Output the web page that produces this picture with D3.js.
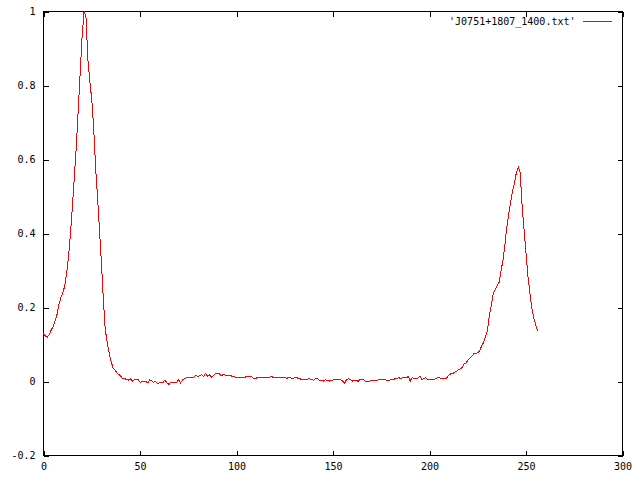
<!DOCTYPE html>
<html>
<head>
<meta charset="utf-8">
<script src="https://cdn.jsdelivr.net/npm/d3@7"></script>
<style>
  body { margin: 0; background: #fff; }
  text { font-family: "DejaVu Sans Mono", monospace; font-size: 10px; fill: #000; }
</style>
</head>
<body>
<svg class="chart" width="640" height="480"></svg>
<script>
// intensity per channel (channel 0..256)
const intensity = [
  0.132, 0.122, 0.120, 0.127, 0.139, 0.149, 0.163, 0.181, 0.208, 0.227,
  0.240, 0.258, 0.294, 0.339, 0.402, 0.474, 0.555, 0.636, 0.735, 0.834,
  0.933, 1.000, 0.985, 0.870, 0.812, 0.762, 0.686, 0.578, 0.497, 0.411,
  0.321, 0.222, 0.141, 0.105, 0.078, 0.055, 0.037, 0.031, 0.024, 0.019,
  0.014, 0.008, 0.008, 0.005, 0.004, 0.007, 0.001, 0.004, 0.007, 0.005,
  -0.002, -0.001, 0.000, 0.001, -0.004, 0.005, 0.002, -0.002, 0.001, -0.005,
  -0.004, -0.004, -0.002, 0.004, -0.004, -0.008, -0.002, -0.002, -0.002, -0.002,
  0.005, -0.004, 0.004, 0.007, 0.010, 0.010, 0.010, 0.010, 0.012, 0.017,
  0.012, 0.016, 0.019, 0.0135, 0.022, 0.0135, 0.018, 0.012, 0.016, 0.021,
  0.021, 0.021, 0.016, 0.018, 0.018, 0.016, 0.016, 0.016, 0.0135, 0.0135,
  0.010, 0.011, 0.012, 0.010, 0.010, 0.013, 0.013, 0.013, 0.012, 0.008,
  0.008, 0.012, 0.012, 0.010, 0.012, 0.011, 0.010, 0.010, 0.015, 0.010,
  0.012, 0.012, 0.012, 0.012, 0.012, 0.012, 0.008, 0.011, 0.010, 0.008,
  0.010, 0.012, 0.008, 0.007, 0.005, 0.005, 0.005, 0.007, 0.007, 0.005,
  0.003, 0.008, 0.007, 0.003, 0.003, 0.001, 0.005, 0.003, 0.001, 0.003,
  0.004, 0.0045, 0.0045, 0.005, 0.005, 0.001, -0.005, 0.005, 0.007, 0.005,
  0.001, 0.004, 0.004, 0.000, 0.005, 0.005, 0.004, -0.001, 0.001, 0.001,
  0.004, 0.004, 0.003, 0.003, 0.005, 0.005, 0.005, 0.005, 0.003, 0.003,
  0.005, 0.005, 0.007, 0.007, 0.011, 0.008, 0.010, 0.010, 0.010, 0.014,
  0.001, 0.011, 0.007, 0.007, 0.009, 0.014, 0.005, 0.008, 0.010, 0.005,
  0.005, 0.005, 0.004, 0.007, 0.010, 0.011, 0.007, 0.007, 0.007, 0.010,
  0.017, 0.021, 0.021, 0.025, 0.028, 0.032, 0.034, 0.039, 0.048, 0.050,
  0.059, 0.064, 0.068, 0.076, 0.076, 0.078, 0.082, 0.096, 0.105, 0.122,
  0.136, 0.177, 0.204, 0.237, 0.249, 0.259, 0.267, 0.298, 0.325, 0.366,
  0.415, 0.451, 0.483, 0.514, 0.537, 0.564, 0.580, 0.564, 0.474, 0.411,
  0.348, 0.285, 0.240, 0.199, 0.172, 0.154, 0.136
];
const channel = d3.range(intensity.length);

const xTicks = [0, 50, 100, 150, 200, 250, 300];
const yTicks = [-0.2, 0, 0.2, 0.4, 0.6, 0.8, 1];
const seriesName = "'J0751+1807_1400.txt'";

const chart = d3.select('.chart');
const margin = { top: 11, right: 18, bottom: 25, left: 43 };
const innerWidth = 640 - margin.left - margin.right;
const innerHeight = 480 - margin.top - margin.bottom;

const xScale = d3.scaleLinear().domain([0, 300]).range([0, innerWidth]);
const yScale = d3.scaleLinear().domain([-0.2, 1]).range([innerHeight, 0]);

const g = chart.append('g')
    .attr('transform', `translate(${margin.left + 0.5},${margin.top + 0.5})`);

const fmt = d => String(+d.toFixed(1));

// ticks point inwards, mirrored on all four sides (gnuplot style)
g.append('g').attr('transform', `translate(0,${innerHeight})`)
    .call(d3.axisBottom(xScale).tickValues(xTicks).tickFormat(fmt).tickSize(-5).tickPadding(7));
g.append('g').attr('class', 'mirror')
    .call(d3.axisTop(xScale).tickValues(xTicks).tickSize(-5));
g.append('g')
    .call(d3.axisLeft(yScale).tickValues(yTicks).tickFormat(fmt).tickSize(-5).tickPadding(8));
g.append('g').attr('class', 'mirror').attr('transform', `translate(${innerWidth},0)`)
    .call(d3.axisRight(yScale).tickValues(yTicks).tickSize(-5));

g.selectAll('.mirror text').remove();
g.selectAll('.domain').remove();
g.selectAll('.tick line').attr('stroke', '#000').attr('shape-rendering', 'crispEdges');
g.selectAll('.tick text').attr('fill', '#000').attr('font-family', null).attr('font-size', null);

g.append('rect')
    .attr('width', innerWidth)
    .attr('height', innerHeight)
    .attr('fill', 'none')
    .attr('stroke', '#000')
    .attr('shape-rendering', 'crispEdges');

const line = d3.line()
    .x((d, i) => xScale(channel[i]))
    .y(d => yScale(d));

g.append('path')
    .datum(intensity)
    .attr('d', line)
    .attr('fill', 'none')
    .attr('stroke', '#ff0000')
    .attr('stroke-width', 1)
    .attr('shape-rendering', 'crispEdges');

// key
const key = g.append('g').attr('transform', `translate(${innerWidth},10)`);
key.append('text')
    .attr('x', -47)
    .attr('y', 0)
    .attr('dy', '0.35em')
    .attr('text-anchor', 'end')
    .text(seriesName);
key.append('line')
    .attr('x1', -40).attr('x2', -11)
    .attr('stroke', '#ff0000')
    .attr('shape-rendering', 'crispEdges');
</script>
</body>
</html>
